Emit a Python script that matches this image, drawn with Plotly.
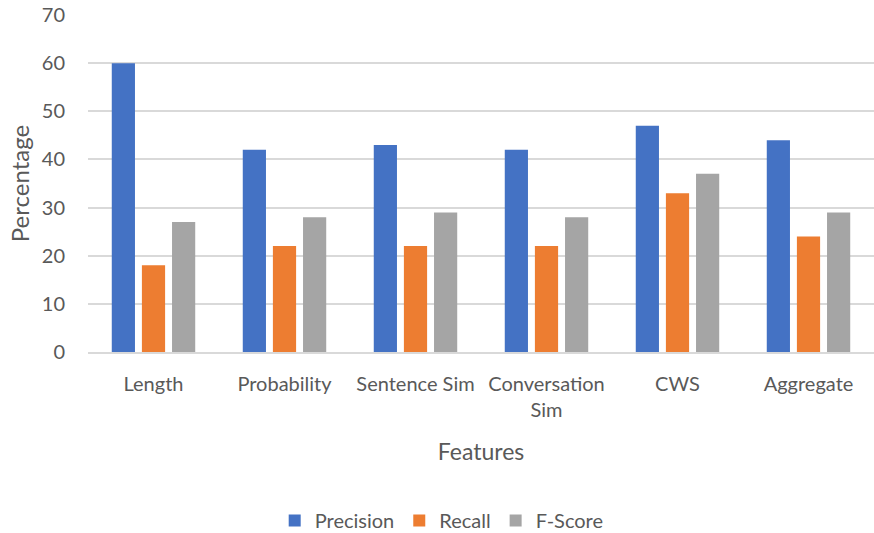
import plotly.graph_objects as go

features = ["Length", "Probability", "Sentence Sim", "Conversation<br>Sim", "CWS", "Aggregate"]
precision = [60, 42, 43, 42, 47, 44]
recall = [18, 22, 22, 22, 33, 24]
f_score = [27, 28, 29, 28, 37, 29]

series = [
    ("Precision", precision, "#4472C4"),
    ("Recall", recall, "#ED7D31"),
    ("F-Score", f_score, "#A5A5A5"),
]

FONT = "Lato, 'Open Sans', sans-serif"
GREY = "#595959"

fig = go.Figure()
for name, vals, color in series:
    fig.add_trace(go.Bar(name=name, x=features, y=vals, marker=dict(color=color, line=dict(width=0))))

fig.update_layout(
    width=874, height=533,
    margin=dict(l=88, r=0, t=15, b=181, autoexpand=False),
    paper_bgcolor="white", plot_bgcolor="white",
    barmode="group", bargap=0.31, bargroupgap=0.23,
    font=dict(family=FONT, size=20, color=GREY),
    showlegend=True,
    legend=dict(orientation="h", x=0.45, xanchor="center", y=-0.5, yanchor="middle",
                font=dict(size=20, color=GREY), itemwidth=30, traceorder="normal"),
)
fig.update_yaxes(range=[0, 70], dtick=10, showgrid=True, gridcolor="#D9D9D9", gridwidth=1.5,
                 zeroline=False, showline=False, ticks="outside", ticklen=18,
                 tickcolor="rgba(0,0,0,0)", automargin=False,
                 title=dict(text="Percentage", font=dict(size=24, color=GREY), standoff=5))
fig.update_xaxes(showline=True, linecolor="#D9D9D9", linewidth=1.5, ticks="", ticklabelstandoff=13,
                 automargin=False,
                 title=dict(text="Features", font=dict(size=23, color=GREY), standoff=24))

fig.write_html("out.html")
